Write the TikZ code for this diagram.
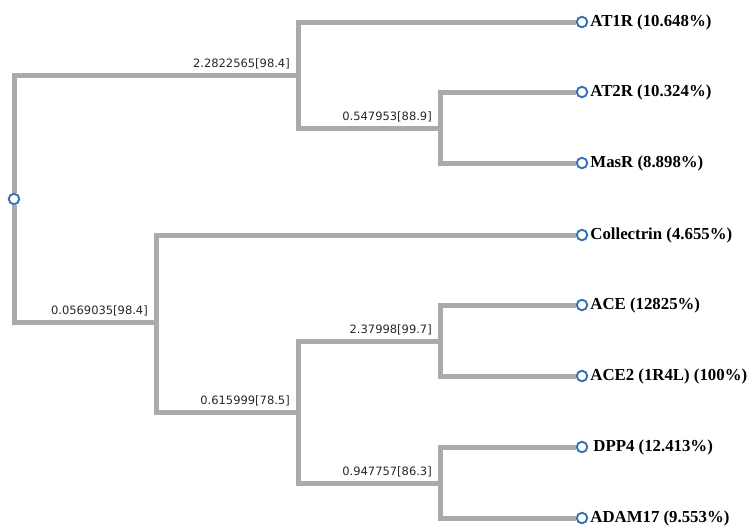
\documentclass[tikz,border=0pt]{standalone}
\usepackage{fontspec}
\setmainfont{Liberation Serif}
\newfontfamily\edgefont{DejaVu Sans}
\definecolor{branchgrey}{RGB}{170,170,170}
\definecolor{dotblue}{RGB}{52,113,176}
\definecolor{edgetext}{RGB}{40,40,40}
\tikzset{
  branch/.style={draw=branchgrey, line width=5pt},
  leafdot/.style={circle, draw=dotblue, fill=white, line width=1.9pt, minimum size=10.5pt, inner sep=0pt},
  leaflabel/.style={anchor=west, inner sep=0pt, font=\fontsize{16.8}{18}\selectfont\bfseries, text=black},
  edgelabel/.style={anchor=south east, inner sep=0pt, font=\edgefont\fontsize{11.5}{13}\selectfont, text=edgetext}
}
\begin{document}
\begin{tikzpicture}[x=1pt,y=-1pt]
\useasboundingbox (0,0) rectangle (747,528);
% internal nodes
\coordinate (n1) at (298,75);
\coordinate (n2) at (440,128);
\coordinate (n3) at (156,322);
\coordinate (n4) at (298,412);
\coordinate (n5) at (440,341);
\coordinate (n6) at (440,483);
% leaves and root
\node[leafdot] (root) at (14,199) {};
\node[leafdot] (at1r) at (582,22) {};
\node[leafdot] (at2r) at (582,92) {};
\node[leafdot] (masr) at (582,163) {};
\node[leafdot] (coll) at (582,235) {};
\node[leafdot] (ace) at (582,305) {};
\node[leafdot] (ace2) at (582,376) {};
\node[leafdot] (dpp4) at (582,447) {};
\node[leafdot] (adam) at (582,518) {};
% branches
\draw[branch] (root) |- (n1);
\draw[branch] (root) |- (n3);
\draw[branch] (n1) |- (at1r);
\draw[branch] (n1) |- (n2);
\draw[branch] (n2) |- (at2r);
\draw[branch] (n2) |- (masr);
\draw[branch] (n3) |- (coll);
\draw[branch] (n3) |- (n4);
\draw[branch] (n4) |- (n5);
\draw[branch] (n4) |- (n6);
\draw[branch] (n5) |- (ace);
\draw[branch] (n5) |- (ace2);
\draw[branch] (n6) |- (dpp4);
\draw[branch] (n6) |- (adam);
% edge labels
\node[edgelabel] (l1) at ([shift={(-8,-6)}]n1) {2.2822565[98.4]};
\node[edgelabel] (l2) at ([shift={(-8,-6)}]n2) {0.547953[88.9]};
\node[edgelabel] (l3) at ([shift={(-8,-6)}]n3) {0.0569035[98.4]};
\node[edgelabel] (l4) at ([shift={(-8,-6)}]n4) {0.615999[78.5]};
\node[edgelabel] (l5) at ([shift={(-8,-6)}]n5) {2.37998[99.7]};
\node[edgelabel] (l6) at ([shift={(-8,-6)}]n6) {0.947757[86.3]};
% leaf labels
\node[leaflabel] (t1) at ([xshift=2pt]at1r.east) {AT1R (10.648\%)};
\node[leaflabel] (t2) at ([xshift=2pt]at2r.east) {AT2R (10.324\%)};
\node[leaflabel] (t3) at ([xshift=2pt]masr.east) {MasR (8.898\%)};
\node[leaflabel] (t4) at ([xshift=2pt]coll.east) {Collectrin (4.655\%)};
\node[leaflabel] (t5) at ([xshift=2pt]ace.east) {ACE (12825\%)};
\node[leaflabel] (t6) at ([xshift=2pt]ace2.east) {ACE2 (1R4L) (100\%)};
\node[leaflabel] (t7) at ([xshift=5pt]dpp4.east) {DPP4 (12.413\%)};
\node[leaflabel] (t8) at ([xshift=2pt]adam.east) {ADAM17 (9.553\%)};
\end{tikzpicture}
\end{document}
